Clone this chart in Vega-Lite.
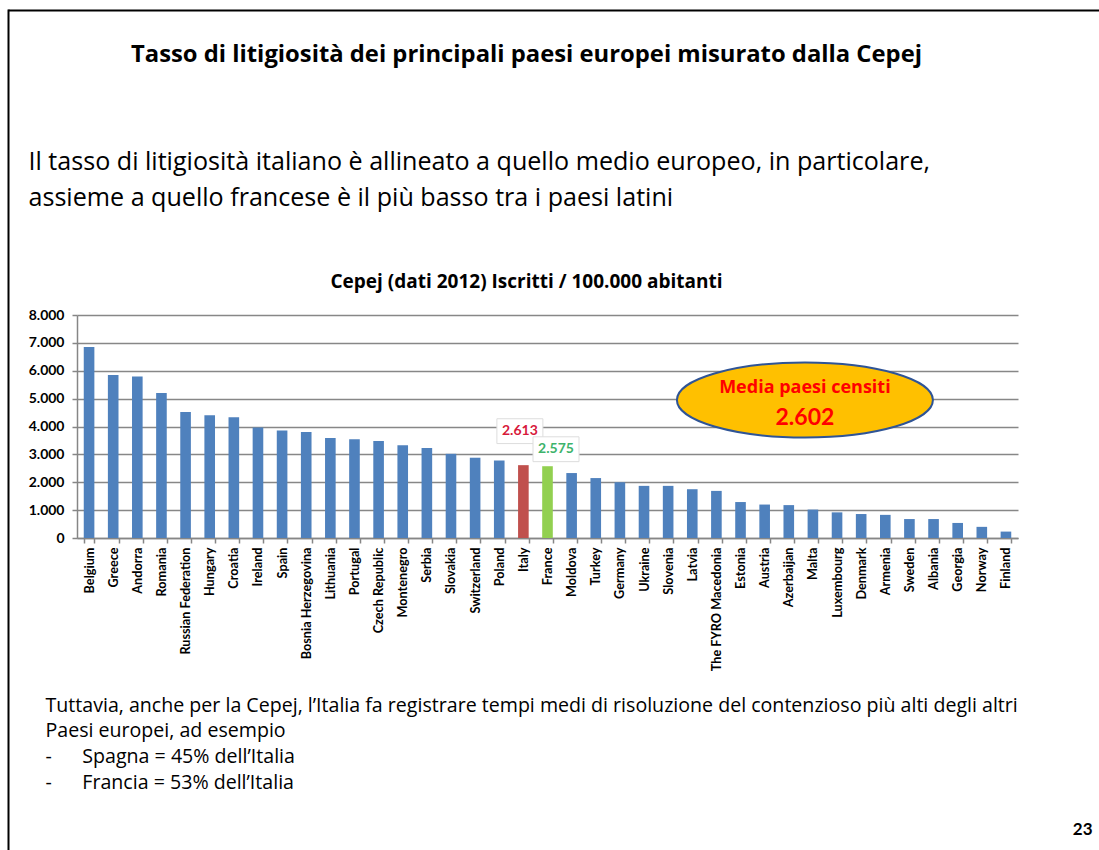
{
  "$schema": "https://vega.github.io/schema/vega-lite/v6.json",
  "width": 941,
  "height": 223,
  "autosize": {"type": "none"},
  "padding": {"left": 77, "top": 315, "right": 81, "bottom": 312},
  "background": "white",
  "config": {
    "font": "Open Sans",
    "view": {"stroke": null},
    "locale": {"number": {"decimal": ",", "thousands": ".", "grouping": [3], "currency": ["€", ""]}}
  },
  "title": {
    "text": "Tasso di litigiosità dei principali paesi europei misurato dalla Cepej",
    "subtitle": "Cepej (dati 2012) Iscritti / 100.000 abitanti",
    "anchor": "middle",
    "frame": "group",
    "dx": -21,
    "offset": -282,
    "subtitlePadding": 206,
    "font": "Open Sans",
    "fontSize": 23.8,
    "fontWeight": "bold",
    "color": "black",
    "subtitleFont": "Open Sans",
    "subtitleFontSize": 19,
    "subtitleFontWeight": "bold",
    "subtitleColor": "black"
  },
  "datasets": {
    "cepej": [
      {"country": "Belgium", "value": 6850},
      {"country": "Greece", "value": 5850},
      {"country": "Andorra", "value": 5790},
      {"country": "Romania", "value": 5200},
      {"country": "Russian Federation", "value": 4520},
      {"country": "Hungary", "value": 4400},
      {"country": "Croatia", "value": 4330},
      {"country": "Ireland", "value": 3960},
      {"country": "Spain", "value": 3860},
      {"country": "Bosnia Herzegovina", "value": 3800},
      {"country": "Lithuania", "value": 3590},
      {"country": "Portugal", "value": 3540},
      {"country": "Czech Republic", "value": 3480},
      {"country": "Montenegro", "value": 3330},
      {"country": "Serbia", "value": 3230},
      {"country": "Slovakia", "value": 3020},
      {"country": "Switzerland", "value": 2880},
      {"country": "Poland", "value": 2780},
      {"country": "Italy", "value": 2613},
      {"country": "France", "value": 2575},
      {"country": "Moldova", "value": 2330},
      {"country": "Turkey", "value": 2150},
      {"country": "Germany", "value": 2000},
      {"country": "Ukraine", "value": 1870},
      {"country": "Slovenia", "value": 1870},
      {"country": "Latvia", "value": 1750},
      {"country": "The FYRO Macedonia", "value": 1690},
      {"country": "Estonia", "value": 1290},
      {"country": "Austria", "value": 1200},
      {"country": "Azerbaijan", "value": 1180},
      {"country": "Malta", "value": 1020},
      {"country": "Luxembourg", "value": 920},
      {"country": "Denmark", "value": 860},
      {"country": "Armenia", "value": 830},
      {"country": "Sweden", "value": 680},
      {"country": "Albania", "value": 680},
      {"country": "Georgia", "value": 540},
      {"country": "Norway", "value": 400},
      {"country": "Finland", "value": 230}
    ],
    "media": [
      {"label": "Media paesi censiti", "media": 2602}
    ]
  },
  "layer": [
    {
      "data": {"name": "cepej"},
      "layer": [
        {
          "mark": {"type": "bar"},
          "encoding": {
            "x": {
              "field": "country",
              "type": "nominal",
              "sort": null,
              "scale": {"paddingInner": 0.56, "paddingOuter": 0.28},
              "axis": {
                "title": "23",
                "titleX": 1015,
                "titleY": 296,
                "titleAlign": "right",
                "titleBaseline": "alphabetic",
                "titleFont": "Lato",
                "titleFontSize": 17,
                "titleFontWeight": "bold",
                "titleColor": "black",
                "labelAngle": -90,
                "labelFont": "Lato",
                "labelFontSize": 12.7,
                "labelFontWeight": "bold",
                "labelColor": "black",
                "labelPadding": 4,
                "labelLimit": 300,
                "labelOverlap": false,
                "tickBand": "extent",
                "tickSize": 5,
                "tickColor": "#868686",
                "tickWidth": 1.5,
                "domainColor": "#868686",
                "domainWidth": 1.5
              }
            },
            "y": {
              "field": "value",
              "type": "quantitative",
              "scale": {"domain": [0, 8000], "nice": false},
              "axis": {
                "title": null,
                "values": [0, 1000, 2000, 3000, 4000, 5000, 6000, 7000, 8000],
                "tickCount": 10,
                "format": ",d",
                "labelOverlap": false,
                "grid": true,
                "gridColor": "#878787",
                "gridWidth": 1.5,
                "domainColor": "#868686",
                "domainWidth": 1.5,
                "tickColor": "#868686",
                "tickWidth": 1.5,
                "tickSize": 5,
                "labelFont": "Lato",
                "labelFontSize": 14,
                "labelFontWeight": "bold",
                "labelColor": "black",
                "labelPadding": 8
              }
            },
            "color": {
              "condition": [
                {"test": "datum.country === 'Italy'", "value": "#C0504D"},
                {"test": "datum.country === 'France'", "value": "#92D050"}
              ],
              "value": "#4F81BD"
            }
          }
        },
        {
          "data": {"name": "media"},
          "mark": {
            "type": "point",
            "shape": "M -1.0625 0 A 1 0.293 0 1 1 0.9375 0 A 1 0.293 0 1 1 -1.0625 0 Z",
            "size": 65536,
            "filled": true,
            "fill": "#FFC000",
            "stroke": "#2F5496",
            "strokeWidth": 2,
            "opacity": 1
          },
          "encoding": {
            "x": {"datum": "Malta"},
            "y": {"datum": 4950, "type": "quantitative"}
          }
        },
        {
          "data": {"name": "media"},
          "mark": {"type": "text", "font": "Open Sans", "fontSize": 18, "fontWeight": "bold", "color": "#FF0000", "dx": -8, "baseline": "middle"},
          "encoding": {
            "x": {"datum": "Malta"},
            "y": {"datum": 5380, "type": "quantitative"},
            "text": {"field": "label"}
          }
        },
        {
          "data": {"name": "media"},
          "mark": {"type": "text", "font": "Lato", "fontSize": 23, "fontWeight": "bold", "color": "#FF0000", "dx": -8, "baseline": "middle"},
          "encoding": {
            "x": {"datum": "Malta"},
            "y": {"datum": 4300, "type": "quantitative"},
            "text": {"field": "media", "type": "quantitative", "format": ",d"}
          }
        },
        {
          "transform": [{"filter": "datum.country === 'Italy'"}],
          "mark": {
            "type": "point",
            "shape": "M -1.152 -2.018 H 0.848 V -0.938 H -1.152 Z",
            "size": 2116,
            "filled": true,
            "fill": "white",
            "stroke": "#DDDDDD",
            "strokeWidth": 1,
            "opacity": 1
          },
          "encoding": {
            "x": {"field": "country", "type": "nominal", "sort": null},
            "y": {"field": "value", "type": "quantitative"}
          }
        },
        {
          "transform": [{"filter": "datum.country === 'France'"}],
          "mark": {
            "type": "point",
            "shape": "M -0.63 -1.279 H 1.37 V -0.199 H -0.63 Z",
            "size": 2116,
            "filled": true,
            "fill": "white",
            "stroke": "#DDDDDD",
            "strokeWidth": 1,
            "opacity": 1
          },
          "encoding": {
            "x": {"field": "country", "type": "nominal", "sort": null},
            "y": {"field": "value", "type": "quantitative"}
          }
        },
        {
          "transform": [{"filter": "datum.country === 'Italy'"}],
          "mark": {"type": "text", "font": "Lato", "fontSize": 14, "fontWeight": "bold", "color": "#D7193B", "dx": -3.5, "dy": -34, "baseline": "middle"},
          "encoding": {
            "x": {"field": "country", "type": "nominal", "sort": null},
            "y": {"field": "value", "type": "quantitative"},
            "text": {"field": "value", "type": "quantitative", "format": ",d"}
          }
        },
        {
          "transform": [{"filter": "datum.country === 'France'"}],
          "mark": {"type": "text", "font": "Lato", "fontSize": 14, "fontWeight": "bold", "color": "#3DB36B", "dx": 8.5, "dy": -17, "baseline": "middle"},
          "encoding": {
            "x": {"field": "country", "type": "nominal", "sort": null},
            "y": {"field": "value", "type": "quantitative"},
            "text": {"field": "value", "type": "quantitative", "format": ",d"}
          }
        }
      ]
    },
    {
      "data": {"values": [{}]},
      "mark": {"type": "point", "opacity": 0},
      "encoding": {
        "x": {
          "datum": 0,
          "type": "quantitative",
          "scale": {"domain": [0, 1], "range": [-69, 1022]},
          "axis": {
            "orient": "top",
            "offset": 305,
            "domainColor": "black",
            "domainWidth": 2,
            "ticks": false,
            "labels": false,
            "grid": false,
            "title": [
              "Tuttavia, anche per la Cepej, l’Italia fa registrare tempi medi di risoluzione del contenzioso più alti degli altri",
              "Paesi europei, ad esempio",
              "-\u00a0\u00a0\u00a0\u00a0\u00a0 Spagna = 45% dell’Italia",
              "-\u00a0\u00a0\u00a0\u00a0\u00a0 Francia = 53% dell’Italia"
            ],
            "titleX": -32,
            "titleY": 701,
            "titleAlign": "left",
            "titleBaseline": "alphabetic",
            "titleFont": "Open Sans",
            "titleFontSize": 19.6,
            "titleFontWeight": "normal",
            "titleColor": "black",
            "titleLineHeight": 25.7
          }
        },
        "y": {
          "datum": 0,
          "type": "quantitative",
          "scale": {"domain": [0, 1], "range": [535, -306]},
          "axis": {
            "orient": "left",
            "offset": 69,
            "domainColor": "black",
            "domainWidth": 2,
            "ticks": false,
            "labels": false,
            "grid": false,
            "title": [
              "Il tasso di litigiosità italiano è allineato a quello medio europeo, in particolare,",
              "assieme a quello francese è il più basso tra i paesi latini"
            ],
            "titleAngle": 0,
            "titleX": 20,
            "titleY": -146,
            "titleAlign": "left",
            "titleBaseline": "alphabetic",
            "titleFont": "Open Sans",
            "titleFontSize": 25.1,
            "titleFontWeight": "normal",
            "titleColor": "black",
            "titleLineHeight": 36
          }
        }
      }
    }
  ],
  "resolve": {
    "scale": {"x": "independent", "y": "independent"},
    "axis": {"x": "independent", "y": "independent"}
  }
}
